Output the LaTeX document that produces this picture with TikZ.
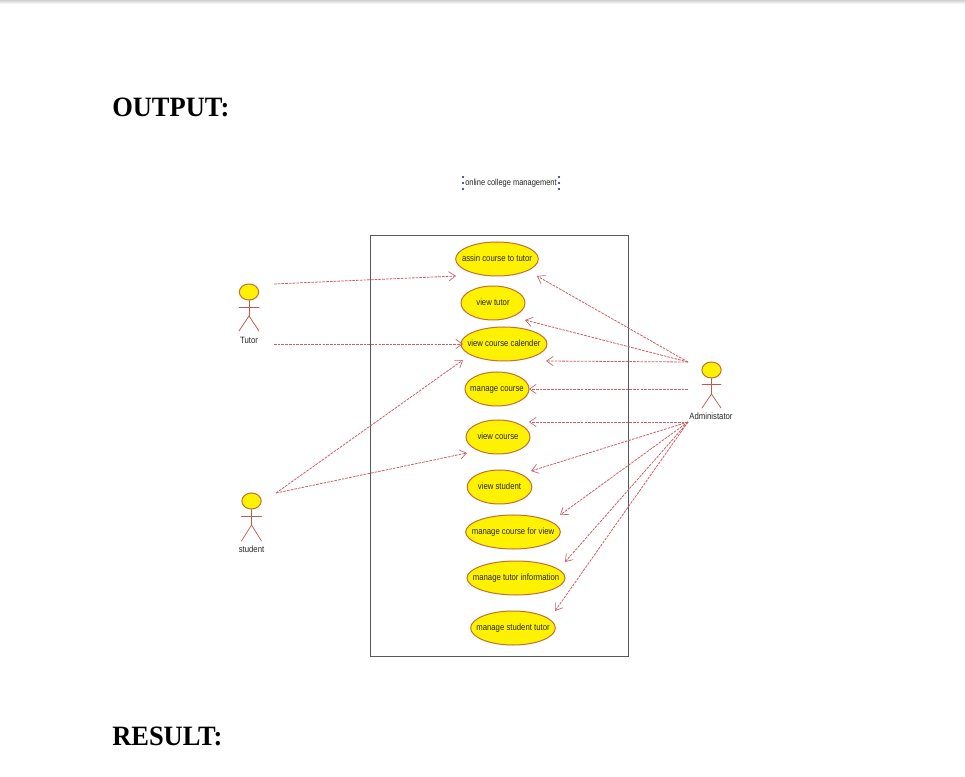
\documentclass[tikz,border=0pt]{standalone}
\usepackage{fontspec}
\usepackage{graphicx}
\setmainfont{Liberation Serif}
\newfontfamily\lblfont[FakeStretch=0.85]{Liberation Sans}
\newfontfamily\headfont[FakeStretch=0.945]{Liberation Serif}
\usetikzlibrary{shapes.geometric,arrows.meta}
\definecolor{umlline}{HTML}{CC6068}
\definecolor{umledge}{HTML}{C07030}
\definecolor{umllimb}{HTML}{C05A50}
\definecolor{handle}{HTML}{1A1A8C}
\newcommand{\uctext}[1]{\makebox[0pt][c]{\vphantom{lg}#1}}
\begin{document}
\begin{tikzpicture}[x=0.75pt,y=-0.75pt,
  usecase/.style={ellipse,draw=umledge,fill=yellow,line width=0.75pt,inner sep=0pt,minimum height=25.5pt,font=\lblfont\fontsize{6.85pt}{8pt}\selectfont,text=black!85},
  flow/.style={draw=umlline,dash pattern=on 2pt off 0.8pt,line width=0.6pt,-{Straight Barb[length=5pt,width=7pt,line width=0.5pt,color=umlline]}},
  limb/.style={draw=umllimb,line width=0.55pt,line cap=round},
  head/.style={ellipse,draw=umledge,fill=yellow,line width=0.75pt,inner sep=0pt,minimum width=14.5pt,minimum height=12pt},
  actorname/.style={font=\lblfont\fontsize{6.85pt}{8pt}\selectfont,text=black!85,inner sep=0pt},
  heading/.style={font=\headfont\fontsize{21pt}{24pt}\selectfont\bfseries,anchor=base west,inner sep=0pt},
  dotmark/.style={circle,fill=handle,inner sep=0pt,minimum size=1.8pt}]
\useasboundingbox (0,0) rectangle (965,777);
\fill[white] (0,0) rectangle (965,777);
\shade[top color=black!18,bottom color=white] (0,0) rectangle (965,4);

\node[heading] (hout) at (112,116.5) {OUTPUT:};
\node[heading] (hres) at (112,745.5) {RESULT:};

\node[font=\lblfont\fontsize{6.6pt}{8pt}\selectfont,text=black!85,inner sep=0pt] (title) at (511,183.5) {online college management};
\foreach \n/\px/\py in {a/463/177,b/463/183,c/463/189,d/559/177,e/559/183,f/559/189}
  \node[dotmark] (h\n) at (\px,\py) {};

\node[draw=black!65,line width=0.6pt,outer sep=0pt,minimum width=193.5pt,minimum height=315.5pt,inner sep=0pt,anchor=north west] (sys) at (370.5,235.5) {};

\node[usecase,minimum width=62pt] (u1) at (497,259) {\uctext{assin course to tutor}};
\node[usecase,minimum width=48pt] (u2) at (493,303) {\uctext{view tutor}};
\node[usecase,minimum width=64.5pt] (u3) at (504,344) {\uctext{view course calender}};
\node[usecase,minimum width=48pt] (u4) at (497,389) {\uctext{manage course}};
\node[usecase,minimum width=48pt] (u5) at (498,437) {\uctext{view course}};
\node[usecase,minimum width=48.5pt] (u6) at (499.5,487) {\uctext{view student}};
\node[usecase,minimum width=71pt] (u7) at (513,532) {\uctext{manage course for view}};
\node[usecase,minimum width=73.5pt] (u8) at (516,578) {\uctext{manage tutor information}};
\node[usecase,minimum width=63.5pt] (u9) at (513,628) {\uctext{manage student tutor}};

% actors
\node[head] (tutor) at (249,292) {};
\coordinate (tn) at (249,316);
\draw[limb] (tutor.south) -- (tn);
\coordinate (tal) at (239,307); \coordinate (tar) at (259,307);
\coordinate (tll) at (239,331); \coordinate (tlr) at (259,331);
\draw[limb] (tal) -- (tar);
\draw[limb] (tll) -- (tn) -- (tlr);
\node[actorname] (tutorlbl) at (249,340) {Tutor};

\node[head] (student) at (251.5,501) {};
\coordinate (sn) at (251.5,525);
\draw[limb] (student.south) -- (sn);
\coordinate (sal) at (241.5,516); \coordinate (sar) at (261.5,516);
\coordinate (sll) at (241.5,541); \coordinate (slr) at (261.5,541);
\draw[limb] (sal) -- (sar);
\draw[limb] (sll) -- (sn) -- (slr);
\node[actorname] (studentlbl) at (251.5,549.5) {student};

\node[head] (admin) at (711.5,370) {};
\coordinate (an) at (711.5,394);
\draw[limb] (admin.south) -- (an);
\coordinate (aal) at (702,384); \coordinate (aar) at (721,384);
\coordinate (all) at (702,408); \coordinate (alr) at (721,408);
\draw[limb] (aal) -- (aar);
\draw[limb] (all) -- (an) -- (alr);
\node[actorname] (adminlbl) at (711,416.5) {Administator};

% free ends of the connectors
\coordinate (t1) at (274,284); \coordinate (t2) at (274,344);
\coordinate (s1) at (276,493);
\coordinate (a1) at (688,362); \coordinate (a2) at (688,389); \coordinate (a3) at (688,422);
\coordinate (e1) at (456,276); \coordinate (e2) at (463,344);
\coordinate (e3) at (463,360); \coordinate (e4) at (467,453);
\coordinate (e5) at (537,276); \coordinate (e6) at (525,320); \coordinate (e7) at (546,361);
\coordinate (e8) at (529,389); \coordinate (e9) at (529,422); \coordinate (e10) at (531,471);
\coordinate (e11) at (560,515); \coordinate (e12) at (565,562); \coordinate (e13) at (555,611);

\draw[flow] (t1) -- (e1);
\draw[flow] (t2) -- (e2);
\draw[flow] (s1) -- (e3);
\draw[flow] (s1) -- (e4);
\draw[flow] (a1) -- (e5);
\draw[flow] (a1) -- (e6);
\draw[flow] (a1) -- (e7);
\draw[flow] (a2) -- (e8);
\draw[flow] (a3) -- (e9);
\draw[flow] (a3) -- (e10);
\draw[flow] (a3) -- (e11);
\draw[flow] (a3) -- (e12);
\draw[flow] (a3) -- (e13);
\end{tikzpicture}
\end{document}
